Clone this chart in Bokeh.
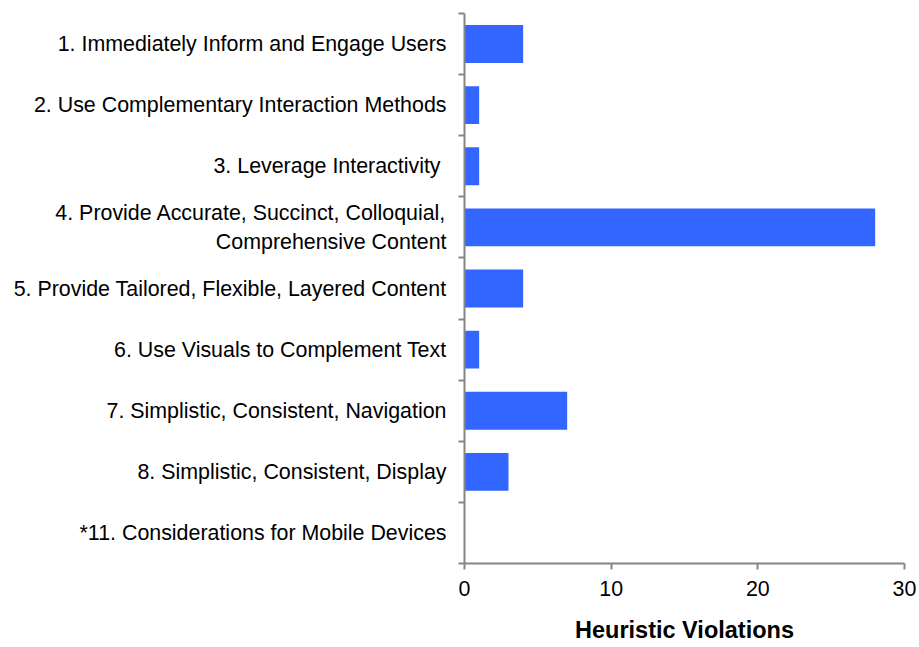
from bokeh.plotting import figure
from bokeh.models import FixedTicker, Range1d, ColumnDataSource
from bokeh.embed import file_html
from bokeh.resources import INLINE

categories = [
    "1. Immediately Inform and Engage Users",
    "2. Use Complementary Interaction Methods",
    "3. Leverage Interactivity ",
    "4. Provide Accurate, Succinct, Colloquial,\nComprehensive Content",
    "5. Provide Tailored, Flexible, Layered Content",
    "6. Use Visuals to Complement Text",
    "7. Simplistic, Consistent, Navigation",
    "8. Simplistic, Consistent, Display",
    "*11. Considerations for Mobile Devices",
]
violations = [4, 1, 1, 28, 4, 1, 7, 3, 0]
x_ticks = [0, 10, 20, 30]

n = len(categories)
centers = [n - i - 0.5 for i in range(n)]

src = ColumnDataSource(dict(y=centers, right=violations))

p = figure(frame_width=440, frame_height=550, output_backend="svg", toolbar_location=None,
           x_range=Range1d(0, 30), y_range=Range1d(0, n),
           min_border_left=464, min_border_right=14, min_border_top=13, min_border_bottom=60)

p.hbar(y="y", left=0, right="right", height=0.62, source=src,
       fill_color="#3366FF", line_color=None)

p.outline_line_color = None
p.xgrid.visible = False
p.ygrid.visible = False

axis_color = "#868686"
font = "Liberation Sans"

p.yaxis.ticker = FixedTicker(ticks=centers, minor_ticks=list(range(0, n + 1)))
p.yaxis.major_label_overrides = {c: lab for c, lab in zip(centers, categories)}
p.yaxis.major_tick_out = 0
p.yaxis.major_tick_in = 0
p.yaxis.minor_tick_out = 6
p.yaxis.minor_tick_in = 0
p.yaxis.minor_tick_line_color = axis_color
p.yaxis.minor_tick_line_width = 2
p.yaxis.axis_line_color = axis_color
p.yaxis.axis_line_width = 2
p.yaxis.major_label_text_font = font
p.yaxis.major_label_text_font_size = "21.4px"
p.yaxis.major_label_text_color = "black"
p.yaxis.major_label_standoff = 12
p.yaxis.major_label_text_align = "right"

p.xaxis.ticker = FixedTicker(ticks=x_ticks, minor_ticks=[])
p.xaxis.major_tick_out = 6
p.xaxis.major_tick_in = 0
p.xaxis.major_tick_line_color = axis_color
p.xaxis.major_tick_line_width = 2
p.xaxis.axis_line_color = axis_color
p.xaxis.axis_line_width = 2
p.xaxis.major_label_text_font = font
p.xaxis.major_label_text_font_size = "21.4px"
p.xaxis.major_label_text_color = "black"
p.xaxis.major_label_standoff = 11
p.xaxis.axis_label = "Heuristic Violations"
p.xaxis.axis_label_text_font = font
p.xaxis.axis_label_text_font_size = "23.5px"
p.xaxis.axis_label_text_font_style = "bold"
p.xaxis.axis_label_text_color = "black"
p.xaxis.axis_label_standoff = 18

open("out.html", "w").write(file_html(p, INLINE))
